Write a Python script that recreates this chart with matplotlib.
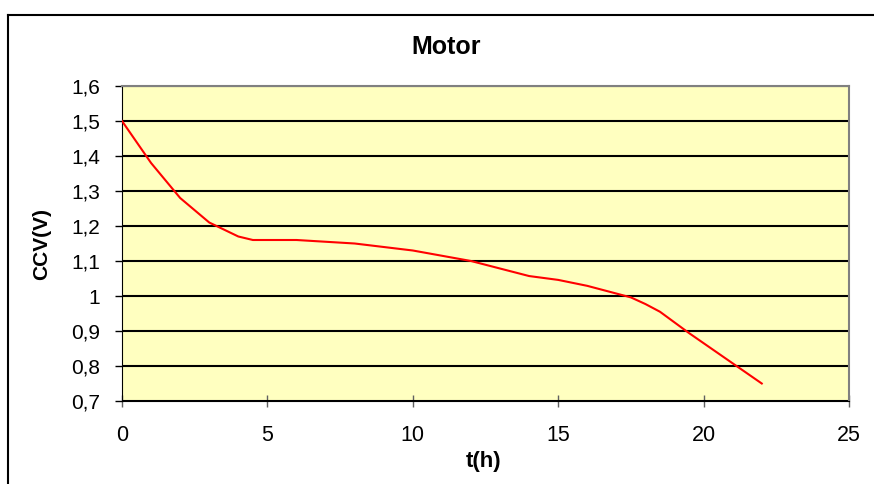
import matplotlib
matplotlib.use("Agg")
import matplotlib.pyplot as plt
from matplotlib.ticker import FuncFormatter, MultipleLocator
from matplotlib.lines import Line2D

plt.rcParams['font.family'] = ['Liberation Sans', 'DejaVu Sans']

# discharge curve
t_h = [0, 1, 2, 3, 4, 4.5, 6, 8, 10, 12, 14, 15, 16, 17.5, 18, 18.5, 19.5, 22]
ccv = [1.5, 1.38, 1.28, 1.21, 1.17, 1.16, 1.16, 1.15, 1.13, 1.10, 1.057, 1.046, 1.029, 0.996, 0.977, 0.955, 0.894, 0.75]

title = "Motor"
xlabel = "t(h)"
ylabel = "CCV(V)"

W, H = 874, 484


def comma_fmt(v, pos):
    s = "%.1f" % v
    if s.endswith(".0"):
        s = s[:-2]
    return s.replace(".", ",")


fig = plt.figure(figsize=(W / 100, H / 100), dpi=100)
ax = fig.add_axes([122 / W, 1 - 401 / H, (849 - 122) / W, (401 - 86) / H])

# outer chart frame (left and top edges visible)
fig.add_artist(Line2D([8 / W, 8 / W], [0, 1 - 15 / H], transform=fig.transFigure, color='black', lw=1.5))
fig.add_artist(Line2D([8 / W, 1], [1 - 15 / H, 1 - 15 / H], transform=fig.transFigure, color='black', lw=1.5))

ax.set_facecolor('#FFFFC0')
ax.plot(t_h, ccv, color='#FF0000', lw=1.5, zorder=3)

ax.set_xlim(0, 25)
ax.set_ylim(0.7, 1.6)
ax.xaxis.set_major_locator(MultipleLocator(5))
ax.yaxis.set_major_locator(MultipleLocator(0.1))
ax.yaxis.set_major_formatter(FuncFormatter(comma_fmt))
ax.grid(axis='y', color='black', lw=1.5)
ax.set_axisbelow(True)

for side in ['top', 'right']:
    ax.spines[side].set_color('#808080')
    ax.spines[side].set_linewidth(1.5)
ax.spines['left'].set_color('black')
ax.spines['bottom'].set_color('black')

ax.tick_params(axis='y', direction='out', length=5, width=1, labelsize=15, pad=11)
ax.tick_params(axis='x', direction='inout', length=9, width=1, color='#606060', labelsize=15.5, pad=13)

fig.text(446 / W, 1 - 47 / H, title, fontsize=18, fontweight='bold', ha='center', va='center')
fig.text(484 / W, 1 - 461 / H, xlabel, fontsize=16, fontweight='bold', ha='center', va='center')
fig.text(42 / W, 1 - 244 / H, ylabel, fontsize=15, fontweight='bold', ha='center', va='center', rotation=90)

fig.savefig("out.png", dpi=100)
